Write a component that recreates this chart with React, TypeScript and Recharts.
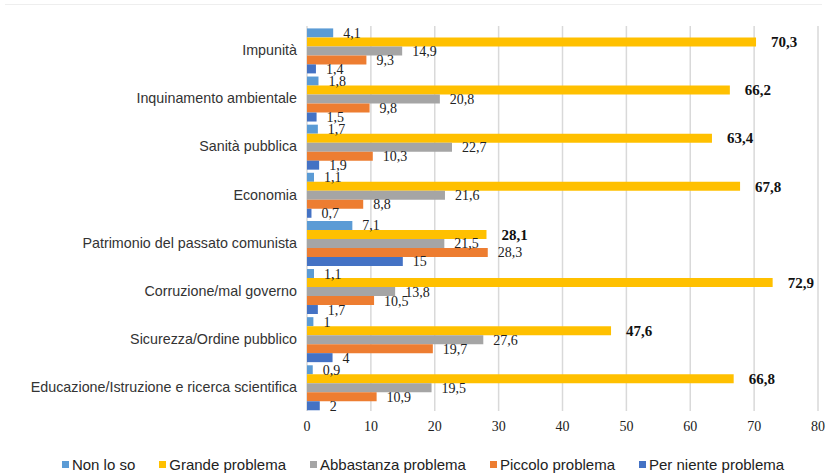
import { BarChart, Bar, XAxis, YAxis, CartesianGrid, Legend, LabelList } from 'recharts';

const categories = [
  'Impunità',
  'Inquinamento ambientale',
  'Sanità pubblica',
  'Economia',
  'Patrimonio del passato comunista',
  'Corruzione/mal governo',
  'Sicurezza/Ordine pubblico',
  'Educazione/Istruzione e ricerca scientifica',
];

const nonLoSo = [4.1, 1.8, 1.7, 1.1, 7.1, 1.1, 1, 0.9];
const grande = [70.3, 66.2, 63.4, 67.8, 28.1, 72.9, 47.6, 66.8];
const abbastanza = [14.9, 20.8, 22.7, 21.6, 21.5, 13.8, 27.6, 19.5];
const piccolo = [9.3, 9.8, 10.3, 8.8, 28.3, 10.5, 19.7, 10.9];
const perNiente = [1.4, 1.5, 1.9, 0.7, 15, 1.7, 4, 2];

const xTicks = [0, 10, 20, 30, 40, 50, 60, 70, 80];

const series = [
  { key: 'nonLoSo', name: 'Non lo so', color: '#5b9bd5' },
  { key: 'grande', name: 'Grande problema', color: '#ffc000' },
  { key: 'abbastanza', name: 'Abbastanza problema', color: '#a5a5a5' },
  { key: 'piccolo', name: 'Piccolo problema', color: '#ed7d31' },
  { key: 'perNiente', name: 'Per niente problema', color: '#4472c4' },
];

const data = categories.map((name, i) => ({
  name,
  nonLoSo: nonLoSo[i],
  grande: grande[i],
  abbastanza: abbastanza[i],
  piccolo: piccolo[i],
  perNiente: perNiente[i],
}));

const fmt = (v: any) => String(v).replace('.', ',');

const serif = '"Liberation Serif", "Times New Roman", serif';
const sans = '"Liberation Sans", Arial, sans-serif';

const labelStyle = { fontFamily: serif, fontSize: 14, fill: '#222' };
const boldStyle = { fontFamily: serif, fontSize: 15, fontWeight: 700, fill: '#111' };

// legenda in ordine di serie, non alfabetico
function LegendRow() {
  return (
    <div style={{ display: 'flex', justifyContent: 'center', alignItems: 'center', height: 24, fontFamily: sans, fontSize: 15, color: '#222', paddingLeft: 28 }}>
      {series.map((s, i) => (
        <div key={s.key} style={{ display: 'flex', alignItems: 'center', marginLeft: i === 0 ? 0 : 24 }}>
          <span style={{ display: 'inline-block', width: 7, height: 7, background: s.color, marginRight: 3 }} />
          <span>{s.name}</span>
        </div>
      ))}
    </div>
  );
}

export default function App() {
  return (
    <div style={{ position: 'absolute', left: 0, top: 0, width: 827, height: 476, background: '#fff' }}>
      {/* riga sottile in alto, come nell'originale */}
      <div style={{ position: 'absolute', left: 5, top: 4, width: 295, height: 0, borderTop: '1px solid #eeeeee' }} />
      <div style={{ position: 'absolute', left: 300, top: 4, width: 522, height: 0, borderTop: '1px solid #eeeeee' }} />
      <BarChart
        width={827}
        height={476}
        data={data}
        layout="vertical"
        margin={{ top: 26, right: 9, bottom: 0, left: 0 }}
        barCategoryGap="5%"
        barGap={0}
      >
        <CartesianGrid horizontal={false} stroke="#d9d9d9" strokeWidth={1.5} />
        <XAxis
          type="number"
          domain={[0, 80]}
          ticks={xTicks}
          axisLine={false}
          tickLine={false}
          tickSize={0}
          tickMargin={10}
          height={41}
          tick={{ fontFamily: serif, fontSize: 14, fill: '#222' }}
        />
        <YAxis
          type="category"
          dataKey="name"
          width={307}
          axisLine={false}
          tickLine={false}
          tickSize={0}
          tickMargin={10}
          tick={{ fontFamily: sans, fontSize: 14.3, fill: '#333' }}
        />
        <Legend verticalAlign="bottom" height={24} content={() => <LegendRow />} />
        {series.map((s) => (
          <Bar key={s.key} dataKey={s.key} name={s.name} fill={s.color} isAnimationActive={false}>
            <LabelList
              dataKey={s.key}
              position="right"
              offset={s.key === 'grande' ? 15 : 10}
              formatter={fmt}
              style={s.key === 'grande' ? boldStyle : labelStyle}
            />
          </Bar>
        ))}
      </BarChart>
    </div>
  );
}
